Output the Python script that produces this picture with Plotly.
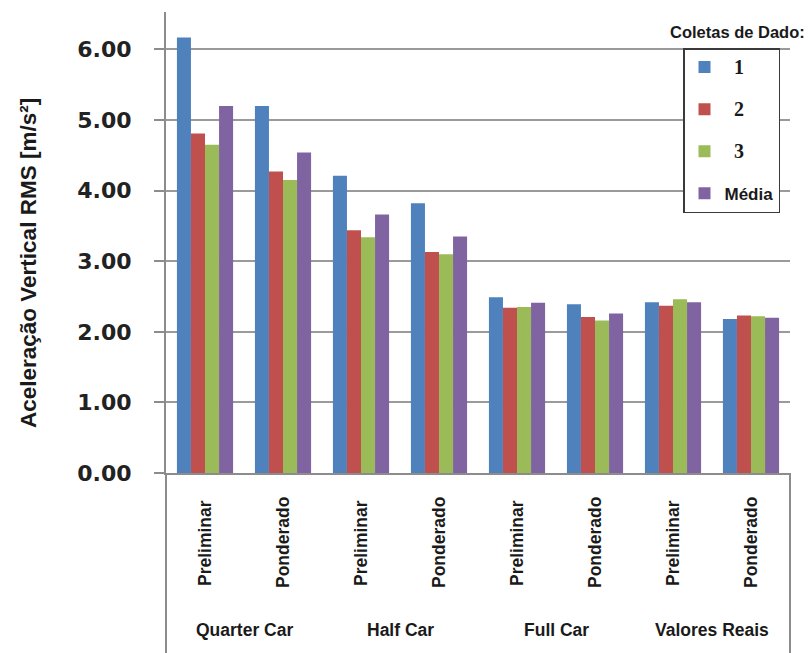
import plotly.graph_objects as go

# Data: vertical RMS acceleration per model / weighting method and data collection
groups = ["Quarter Car", "Half Car", "Full Car", "Valores Reais"]
methods = ["Preliminar", "Ponderado"]
series_names = ["1", "2", "3", "Média"]
coleta_1 = [6.17, 5.20, 4.21, 3.82, 2.49, 2.39, 2.42, 2.18]
coleta_2 = [4.81, 4.27, 3.44, 3.13, 2.34, 2.21, 2.37, 2.23]
coleta_3 = [4.65, 4.15, 3.34, 3.10, 2.35, 2.16, 2.46, 2.22]
media = [5.20, 4.54, 3.66, 3.35, 2.41, 2.26, 2.42, 2.20]
y_ticks = [0, 1, 2, 3, 4, 5, 6]

colors = ["#4F81BD", "#C0504D", "#9BBB59", "#8064A2"]
series_values = [coleta_1, coleta_2, coleta_3, media]

categories = [f"{g} | {m}" for g in groups for m in methods]
method_labels = [m for g in groups for m in methods]

W, H = 811, 653
ML, MR, MT, MB = 166, 21, 12, 180
plot_h = H - MT - MB


def py(pixel_y):
    """Convert a pixel row into paper coordinates."""
    return (H - MB - pixel_y) / plot_h


def px(pixel_x):
    return (pixel_x - ML) / (W - ML - MR)


sans = "Liberation Sans, Arial, sans-serif"
serif_style = "font-family:Liberation Serif;font-size:20px"


def legend_label(name):
    # numbered collections use a bold serif face, the mean keeps the sans face
    if name.isdigit():
        return f"\u00a0\u00a0<span style='{serif_style}'>{name}</span>"
    return name


fig = go.Figure()
for name, vals, col in zip(series_names, series_values, colors):
    fig.add_trace(go.Bar(
        x=categories, y=vals, name=legend_label(name),
        marker=dict(color=col, line=dict(width=0)),
        legendgroup=name,
    ))

text_color = "#1a1a1a"
annotations = []
for cat, lab in zip(categories, method_labels):
    annotations.append(dict(
        x=cat, xref="x", y=py(543), yref="paper", text=lab, textangle=-90,
        showarrow=False, xanchor="center", yanchor="middle",
        font=dict(family=sans, size=17.5, color=text_color, weight="bold"),
    ))
for gi, g in enumerate(groups):
    annotations.append(dict(
        x=2 * gi + 0.5, xref="x", y=py(630), yref="paper", text=g,
        showarrow=False, xanchor="center", yanchor="middle",
        font=dict(family=sans, size=17.5, color=text_color, weight="bold"),
    ))
annotations.append(dict(
    x=px(28), xref="paper", y=py(263), yref="paper",
    text="Aceleração Vertical RMS [m/s²]", textangle=-90, showarrow=False,
    xanchor="center", yanchor="middle",
    font=dict(family=sans, size=22.5, color=text_color, weight="bold"),
))
annotations.append(dict(
    x=px(737), xref="paper", y=py(32), yref="paper", text="Coletas de Dado:",
    showarrow=False, xanchor="center", yanchor="middle",
    font=dict(family=sans, size=16.5, color=text_color, weight="bold"),
))

axis_gray = "#8c8c8c"
shapes = [
    dict(type="line", xref="paper", yref="paper", x0=0, x1=0, y0=0, y1=py(H + 5),
         line=dict(color=axis_gray, width=2)),
    dict(type="line", xref="paper", yref="paper", x0=1, x1=1, y0=0, y1=py(H + 5),
         line=dict(color=axis_gray, width=2)),
]

fig.update_layout(
    width=W, height=H,
    margin=dict(l=ML, r=MR, t=MT, b=MB),
    paper_bgcolor="white", plot_bgcolor="white",
    barmode="group", bargap=0.28, bargroupgap=0,
    showlegend=True,
    legend=dict(
        x=px(683), y=py(48), xanchor="left", yanchor="top",
        bgcolor="white", bordercolor="#3a3a3a", borderwidth=1.5,
        font=dict(family=sans, size=17, color=text_color, weight="bold"),
        tracegroupgap=17, itemwidth=30,
    ),
    xaxis=dict(
        type="category", showticklabels=False, ticks="", showgrid=False,
        showline=True, linecolor=axis_gray, linewidth=2, zeroline=False,
    ),
    yaxis=dict(
        range=[0, 6.53], tickvals=y_ticks, ticktext=[f"{v:.2f}" for v in y_ticks],
        tickfont=dict(family="DejaVu Sans", size=22, color="#222222", weight="bold"),
        ticks="outside", ticklen=10, tickcolor=axis_gray, tickwidth=2,
        ticklabelstandoff=18,
        showline=True, linecolor=axis_gray, linewidth=2,
        showgrid=True, gridcolor="#9a9a9a", gridwidth=2, zeroline=False,
    ),
    annotations=annotations,
    shapes=shapes,
)

fig.write_html("out.html")
